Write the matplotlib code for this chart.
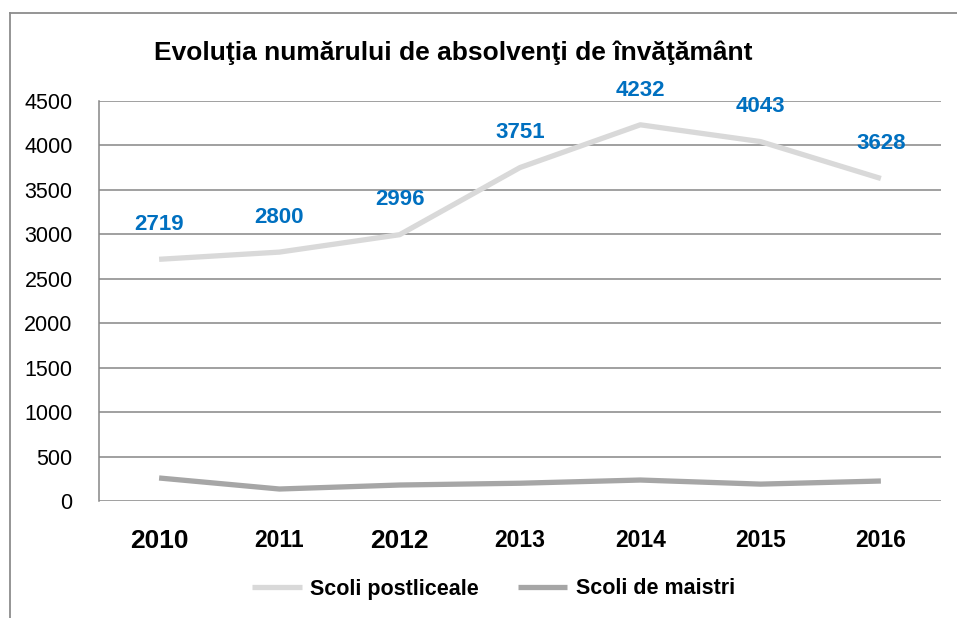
import matplotlib.pyplot as plt
from matplotlib.lines import Line2D
import numpy as np

plt.rcParams['font.family'] = ['Liberation Sans', 'DejaVu Sans']

years = ["2010", "2011", "2012", "2013", "2014", "2015", "2016"]
postliceale = [2719, 2800, 2996, 3751, 4232, 4043, 3628]
maistri = [259, 135, 180, 200, 236, 190, 225]

fig = plt.figure(figsize=(9.57, 6.18), dpi=100)
ax = fig.add_axes([0.1034, 0.1893, 0.8799, 0.6473])

x = np.arange(len(years))
ax.plot(x, postliceale, color="#d9d9d9", lw=3.8, solid_capstyle="butt", label="Scoli postliceale", zorder=3)
ax.plot(x, maistri, color="#a6a6a6", lw=3.8, solid_capstyle="butt", label="Scoli de maistri", zorder=3)

for xi, v in zip(x, postliceale):
    ax.annotate(str(v), (xi, v), xytext=(0, 25), textcoords="offset points",
                ha="center", va="center", color="#0070c0", fontsize=16, fontweight="bold")

ax.set_xlim(-0.5, len(years) - 0.5)
ax.set_ylim(0, 4500)
ax.set_yticks(np.arange(0, 4501, 500))
ax.yaxis.grid(True, color="#868686", lw=1.1)
ax.set_axisbelow(True)
for s in ["top", "right", "bottom"]:
    ax.spines[s].set_visible(False)
ax.spines["left"].set_color("#868686")
ax.spines["left"].set_linewidth(1.1)
ax.tick_params(length=0)
ax.tick_params(axis="y", labelsize=15.5, pad=19)
ax.set_xticks(x)
ax.set_xticklabels(years, fontweight="bold")
for i, lab in enumerate(ax.get_xticklabels()):
    lab.set_fontsize(19 if years[i] in ("2010", "2012") else 16.5)
ax.tick_params(axis="x", pad=20)

fig.text(0.474, 0.914, "Evoluţia numărului de absolvenţi de învăţământ",
         ha="center", va="center", fontsize=19, fontweight="bold")

leg = ax.legend(loc="center", ncol=2, frameon=False, prop={"weight": "bold", "size": 15.5},
                handlelength=2.3, columnspacing=1.8, handletextpad=0.4)
leg.set_bbox_to_anchor((0.5 + 15 / 957, 29 / 618), transform=fig.transFigure)

# outer chart frame (left and top edges visible)
fig.add_artist(Line2D([10 / 957, 10 / 957], [0, 1 - 13 / 618], transform=fig.transFigure, color="#8c8c8c", lw=1.3))
fig.add_artist(Line2D([10 / 957, 1], [1 - 13 / 618, 1 - 13 / 618], transform=fig.transFigure, color="#8c8c8c", lw=1.3))

fig.savefig("out.png", dpi=100)
